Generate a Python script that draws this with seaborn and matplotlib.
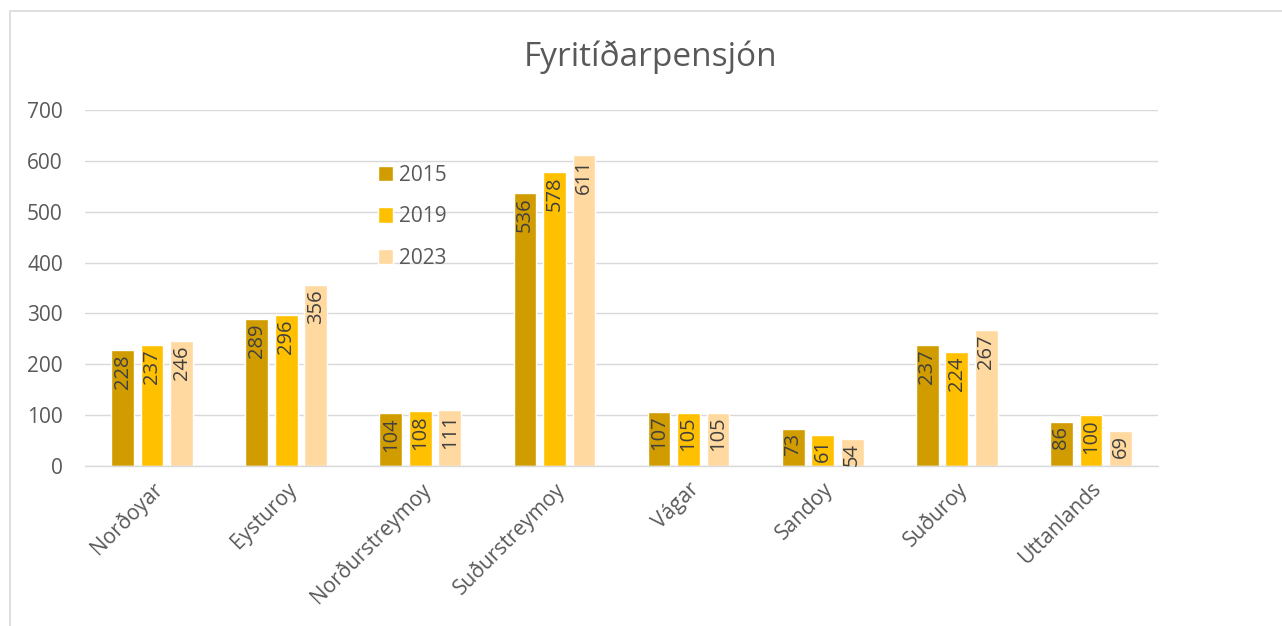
import matplotlib
matplotlib.use("Agg")
import matplotlib.pyplot as plt
import seaborn as sns
import pandas as pd
from matplotlib.patches import Rectangle

categories = ["Norðoyar", "Eysturoy", "Norðurstreymoy", "Suðurstreymoy",
              "Vágar", "Sandoy", "Suðuroy", "Uttanlands"]
years = ["2015", "2019", "2023"]
v2015 = [228, 289, 104, 536, 107, 73, 237, 86]
v2019 = [237, 296, 108, 578, 105, 61, 224, 100]
v2023 = [246, 356, 111, 611, 105, 54, 267, 69]
title = "Fyritíðarpensjón"
yticks = [0, 100, 200, 300, 400, 500, 600, 700]

df = pd.DataFrame({
    "cat": categories * 3,
    "year": [years[0]] * 8 + [years[1]] * 8 + [years[2]] * 8,
    "val": v2015 + v2019 + v2023,
})

sns.set_theme(style="white")
plt.rcParams["font.family"] = ["Open Sans", "DejaVu Sans"]

colors = ["#D09C00", "#FFC000", "#FFD9A0"]
txt = "#595959"

fig = plt.figure(figsize=(12.82, 6.26), dpi=100)
ax = fig.add_axes([85 / 1282, 1 - 466 / 626, 1073 / 1282, 356 / 626])

sns.barplot(data=df, x="cat", y="val", hue="year", palette=colors,
            saturation=1, width=0.66, gap=0.23, ax=ax, legend=True)

for p in ax.patches:
    h = p.get_height()
    if h and h > 0:
        ax.annotate(f"{int(round(h))}", xy=(p.get_x() + p.get_width() / 2, h),
                    xytext=(0, -3), textcoords="offset points",
                    rotation=90, ha="center", va="top",
                    fontsize=14.5, color="#404040")

ax.set_ylim(0, 700)
ax.set_yticks(yticks)
ax.set_yticklabels([str(t) for t in yticks], fontsize=15, color=txt)
ax.yaxis.grid(True, color="#D9D9D9", linewidth=1)
ax.set_axisbelow(True)
ax.tick_params(axis="y", length=0, pad=16)
ax.tick_params(axis="x", length=0, pad=9)
ax.set_xticks(range(len(categories)))
ax.set_xticklabels(categories, rotation=45, ha="right", rotation_mode="anchor",
                   fontsize=15, color=txt)
ax.set_xlabel("")
ax.set_ylabel("")
for s in ["left", "right", "top"]:
    ax.spines[s].set_visible(False)
ax.spines["bottom"].set_color("#D9D9D9")
ax.spines["bottom"].set_linewidth(1)
ax.set_xlim(-0.5, len(categories) - 0.5)

leg = ax.legend(loc="upper left", bbox_to_anchor=(0.263, 0.875), frameon=False,
                fontsize=15, labelspacing=0.98, handlelength=0.75, handleheight=0.75,
                handletextpad=0.3, borderpad=0)
for t in leg.get_texts():
    t.set_color(txt)

fig.text(651 / 1282, 1 - 57 / 626, title, ha="center", va="center", fontsize=24,
         color=txt)

fig.patches.append(Rectangle((10 / 1282, -0.1), 1.2, 1 - 11 / 626 + 0.1,
                             transform=fig.transFigure, fill=False,
                             edgecolor="#D9D9D9", linewidth=1.2))

fig.savefig("out.png", dpi=100)
